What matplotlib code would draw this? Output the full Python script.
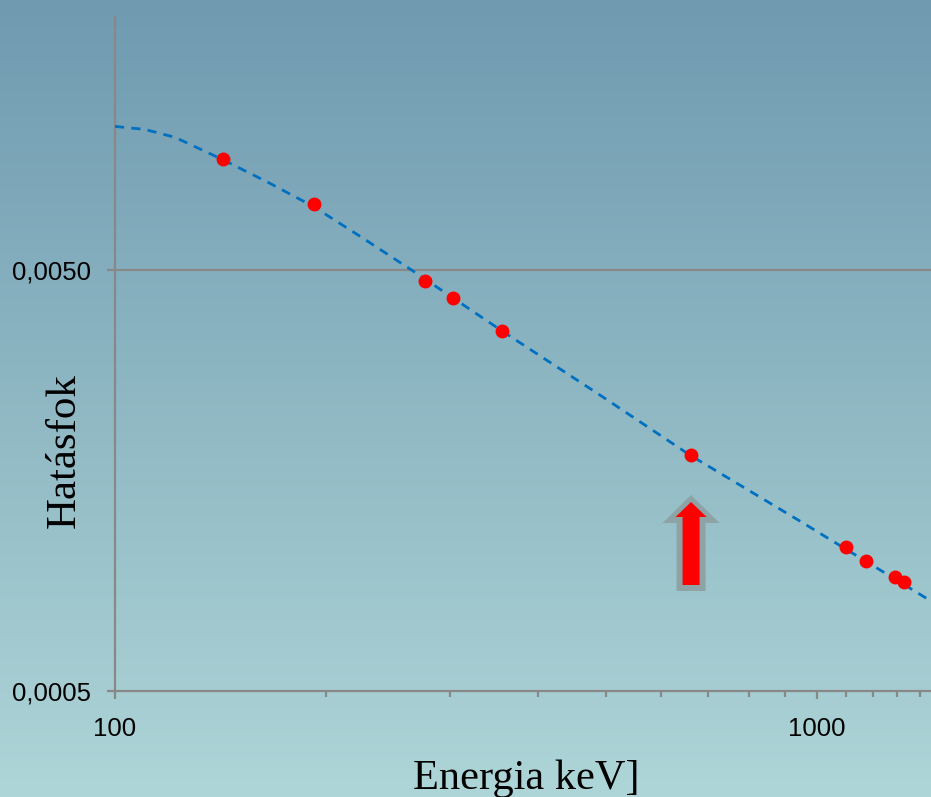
import numpy as np
import matplotlib
matplotlib.use("Agg")
import matplotlib.pyplot as plt
from matplotlib.patches import Polygon

# measured points (energy in keV, efficiency)
energy = [142.65, 192.35, 276.4, 302.85, 356.0, 661.66, 1099.25, 1173.2, 1291.6, 1332.5]
efficiency = [0.00918, 0.00717, 0.00471, 0.00429, 0.00358, 0.00182, 0.00110, 0.00102, 0.000933, 0.000908]

# trend line
trend_x = [100, 110.3, 121.8, 142.1, 165.2, 191.5, 223.4, 264.9, 354.7, 490.9, 659.4, 945.8, 1453.6]
trend_y = [0.01099, 0.01081, 0.01035, 0.009176, 0.008091, 0.007096, 0.006023, 0.00500,
           0.003601, 0.002525, 0.001818, 0.001267, 0.000818]

xmin, xmax = 100, 1453.6
ymin, ymax = 0.0005, 0.02
yticks = [0.0005, 0.005]
ylabels = ["0,0005", "0,0050"]
xticks = [100, 1000]
xlabels = ["100", "1000"]
xminor = [200, 300, 400, 500, 600, 700, 800, 900, 1100, 1200, 1300, 1400]
marked = 661.66   # Cs-137 line, marked with the arrow

W, H = 931, 797
fig = plt.figure(figsize=(W / 100, H / 100), dpi=100)

# background gradient
bg = fig.add_axes([0, 0, 1, 1])
top = np.array([111, 154, 176]) / 255
bot = np.array([174, 213, 215]) / 255
t = np.linspace(0, 1, 256)[:, None]
grad = top[None, :] * (1 - t) + bot[None, :] * t
bg.imshow(grad[:, None, :], aspect="auto", extent=[0, 1, 0, 1])
bg.axis("off")

gray = "#888888"
ax = fig.add_axes([115 / W, (H - 691) / H, (W - 115) / W, (691 - 17) / H])
ax.patch.set_alpha(0)
ax.set_xscale("log")
ax.set_yscale("log")
ax.set_xlim(xmin, xmax)
ax.set_ylim(ymin, ymax)

ax.plot(trend_x, trend_y, color="#0070C0", lw=2.0, linestyle=(0, (3.3, 2.6)), zorder=3)
ax.plot(energy, efficiency, "o", color="#FF0000", markersize=9, zorder=4)

ax.set_xticks(xticks)
ax.set_xticklabels(xlabels)
ax.set_xticks(xminor, minor=True)
ax.xaxis.set_minor_formatter(plt.NullFormatter())
ax.set_yticks(yticks)
ax.set_yticklabels(ylabels)
ax.yaxis.set_minor_locator(plt.NullLocator())

for s in ("top", "right"):
    ax.spines[s].set_visible(False)
for s in ("left", "bottom"):
    ax.spines[s].set_color(gray)
    ax.spines[s].set_linewidth(1.6)

ax.tick_params(axis="both", which="major", color=gray, width=1.6, length=6,
               labelsize=18.5, labelcolor="black")
ax.tick_params(axis="x", which="major", pad=12.5)
ax.tick_params(axis="y", which="major", pad=11.5)
ax.tick_params(axis="x", which="minor", color=gray, width=1.6, length=4)
for lab in ax.get_xticklabels() + ax.get_yticklabels():
    lab.set_family("Liberation Sans")

ax.axhline(yticks[1], color=gray, lw=1.6, zorder=1)

fig.text(526 / W, (H - 789) / H, "Energia keV]", ha="center", va="baseline",
         family="Liberation Serif", fontsize=30.5)
fig.text(65 / W, (H - 451) / H, "Hatásfok", ha="center", va="center", rotation=90,
         family="Liberation Serif", fontsize=31)

# block arrow pointing up under the marked point (pixel offsets)
fig.canvas.draw()
cx = ax.transData.transform((marked, ymin))[0]

def arrow_poly(cx, tip, head_base, half_head, half_shaft, bottom):
    return [(cx, H - tip), (cx + half_head, H - head_base), (cx + half_shaft, H - head_base),
            (cx + half_shaft, H - bottom), (cx - half_shaft, H - bottom),
            (cx - half_shaft, H - head_base), (cx - half_head, H - head_base)]

fig.patches.append(Polygon(arrow_poly(cx, 495, 523, 28.5, 14.5, 591), closed=True,
                           transform=None, facecolor="#8DA3A6", edgecolor="none", zorder=5))
fig.patches.append(Polygon(arrow_poly(cx, 502, 517, 15.5, 8.5, 585), closed=True,
                           transform=None, facecolor="#FF0000", edgecolor="none", zorder=6))

fig.savefig("out.png", dpi=100)
